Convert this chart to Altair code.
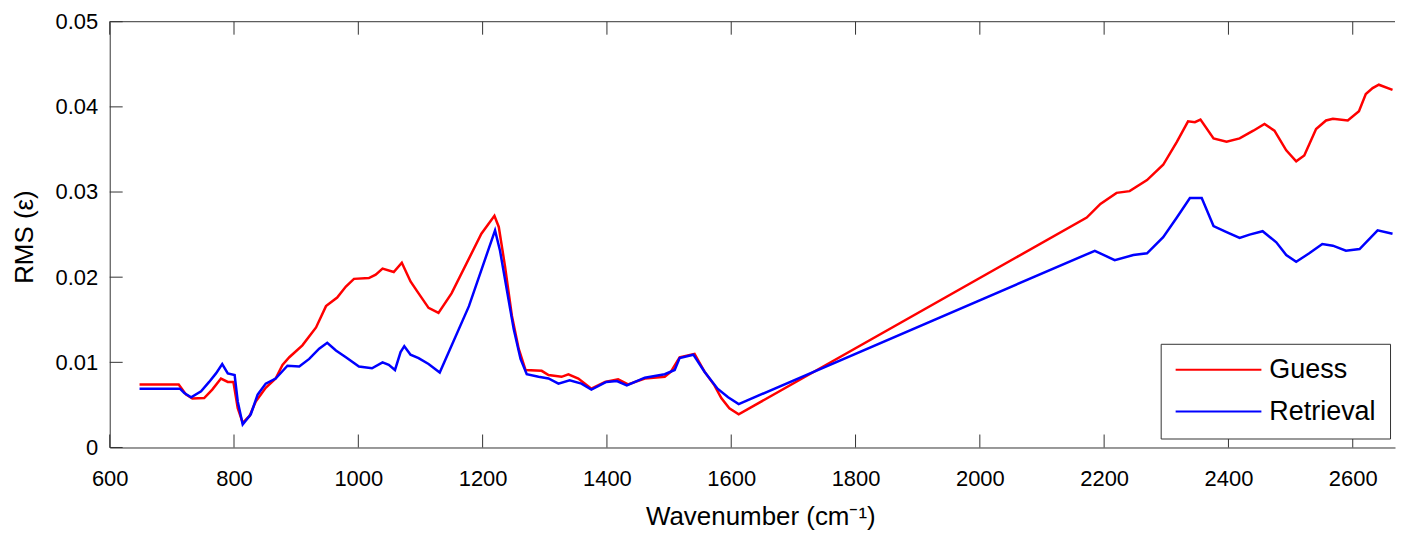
import altair as alt
import pandas as pd

# ---------------- data ----------------
guess_wn = [648, 711, 723, 733, 752, 765, 779, 790, 799, 806, 814, 825, 835, 851, 867, 878, 889,
            910, 932, 948, 966, 980, 993, 1017, 1028, 1039, 1057, 1070, 1084, 1097, 1113, 1129,
            1150, 1198, 1219, 1226, 1236, 1247, 1258, 1269, 1295, 1306, 1327, 1338, 1354, 1375,
            1397, 1418, 1434, 1461, 1493, 1503, 1517, 1541, 1557, 1573, 1584, 1597, 1612,
            2172, 2194, 2220, 2241, 2269, 2295, 2317, 2335, 2346, 2355, 2376, 2397, 2418, 2440,
            2458, 2474, 2493, 2509, 2522, 2541, 2557, 2568, 2592, 2610, 2621, 2632, 2642, 2664]
guess_rms = [0.0074, 0.0074, 0.0062, 0.00575, 0.0058, 0.0068, 0.0081, 0.0077, 0.0077, 0.0046,
             0.0029, 0.0037, 0.0054, 0.0070, 0.0081, 0.0097, 0.0106, 0.0120, 0.0141, 0.0166,
             0.0176, 0.0189, 0.0198, 0.0199, 0.0203, 0.0210, 0.0206, 0.0217, 0.0195, 0.0181,
             0.0164, 0.0158, 0.0181, 0.0251, 0.0272, 0.0259, 0.0213, 0.0155, 0.0116, 0.0091,
             0.0090, 0.0085, 0.0083, 0.0086, 0.0081, 0.0069, 0.0077, 0.0080, 0.0074, 0.0081,
             0.0083, 0.0089, 0.0106, 0.0110, 0.0089, 0.0073, 0.0058, 0.0046, 0.0039,
             0.0270, 0.0286, 0.0299, 0.0301, 0.0314, 0.0332, 0.0359, 0.0383, 0.0382, 0.0385,
             0.0363, 0.0359, 0.0363, 0.0372, 0.0380, 0.0372, 0.0349, 0.0336, 0.0343, 0.0374,
             0.0384, 0.0386, 0.0384, 0.0395, 0.0415, 0.0422, 0.0426, 0.0420]

retr_wn = [648, 713, 720, 731, 747, 760, 771, 781, 790, 801, 806, 814, 827, 838, 851, 867, 886,
           905, 921, 937, 950, 964, 980, 1001, 1022, 1039, 1049, 1059, 1068, 1074, 1084, 1097,
           1113, 1131, 1178, 1220, 1228, 1239, 1250, 1261, 1271, 1290, 1306, 1322, 1340, 1359,
           1375, 1399, 1416, 1432, 1461, 1493, 1509, 1517, 1539, 1557, 1578, 1595, 1612,
           2185, 2217, 2247, 2269, 2295, 2317, 2338, 2357, 2376, 2397, 2418, 2434, 2455, 2477,
           2493, 2509, 2530, 2551, 2568, 2589, 2611, 2640, 2664]
retr_rms = [0.0069, 0.0069, 0.0064, 0.0059, 0.0066, 0.0077, 0.0087, 0.0098, 0.0087, 0.0085,
            0.0054, 0.0027, 0.0039, 0.0062, 0.0075, 0.0081, 0.0096, 0.0095, 0.0104, 0.0116,
            0.0123, 0.0114, 0.0106, 0.0095, 0.0093, 0.0100, 0.0097, 0.0091, 0.0112, 0.0119,
            0.0109, 0.0105, 0.0098, 0.0088, 0.0166, 0.0255, 0.0231, 0.0185, 0.0139, 0.0104,
            0.0086, 0.0083, 0.0081, 0.0075, 0.0079, 0.0075, 0.0068, 0.0077, 0.0078, 0.0073,
            0.0082, 0.0086, 0.0091, 0.0105, 0.0109, 0.0089, 0.0069, 0.0059, 0.0051,
            0.0231, 0.0220, 0.0226, 0.0228, 0.0247, 0.0270, 0.0293, 0.0293, 0.0260, 0.0253,
            0.0246, 0.0250, 0.0254, 0.0241, 0.0226, 0.0218, 0.0228, 0.0239, 0.0237, 0.0231,
            0.0233, 0.0255, 0.0251]

series_names = ["Guess", "Retrieval"]
series_colors = ["#ff0000", "#0000ff"]
x_ticks = [600, 800, 1000, 1200, 1400, 1600, 1800, 2000, 2200, 2400, 2600]
y_ticks = [0, 0.01, 0.02, 0.03, 0.04, 0.05]
x_title = "Wavenumber (cm⁻¹)"
y_title = "RMS (ε)"

# ---------------- layout ----------------
W, H = 1289, 427
XMIN, XMAX = 600, 2668
AX = "#333333"
FONT = "Liberation Sans"
TICK = 13

df = pd.concat([
    pd.DataFrame({"wn": guess_wn, "rms": guess_rms, "series": series_names[0]}),
    pd.DataFrame({"wn": retr_wn, "rms": retr_rms, "series": series_names[1]}),
], ignore_index=True)

x_scale = alt.Scale(domain=[XMIN, XMAX], nice=False, zero=False)
y_scale = alt.Scale(domain=[0, 0.05], nice=False, zero=False)

x_axis = alt.Axis(values=x_ticks, ticks=False, grid=False, format="d",
                  labelPadding=21, labelFlush=False, labelOverlap=False,
                  title=x_title, titleX=W / 2 + 8, titleY=77,
                  titleBaseline="alphabetic", titleAlign="center")
y_axis = alt.Axis(values=y_ticks, ticks=False, grid=False,
                  labelExpr="datum.value == 0 ? '0' : format(datum.value, '.2f')",
                  labelPadding=12, labelFlush=False, labelOverlap=False,
                  title=y_title, titleX=-85, titleY=H / 2 + 2, titleAngle=270,
                  titleBaseline="middle", titleAlign="center")

lines = alt.Chart(df).mark_line(strokeWidth=2.5, clip=True).encode(
    x=alt.X("wn:Q", scale=x_scale, axis=x_axis, title=x_title),
    y=alt.Y("rms:Q", scale=y_scale, axis=y_axis, title=y_title),
    color=alt.Color("series:N",
                    scale=alt.Scale(domain=series_names, range=series_colors),
                    legend=alt.Legend(title=None, orient="none", legendX=1054, legendY=323,
                                      direction="vertical", strokeColor=AX, fillColor="white",
                                      padding=14, symbolType="stroke", symbolSize=7396,
                                      symbolStrokeWidth=2, labelFontSize=27, labelFont=FONT,
                                      labelColor="black", labelOffset=7, clipHeight=24,
                                      rowPadding=15)),
)

xt = pd.DataFrame({"wn": x_ticks})
yt = pd.DataFrame({"rms": y_ticks})

bottom_ticks = alt.Chart(xt).mark_rule(color=AX, strokeWidth=1).encode(
    x=alt.X("wn:Q", scale=x_scale, axis=x_axis, title=x_title),
    y=alt.value(H), y2=alt.value(H - TICK))
top_ticks = alt.Chart(xt).mark_rule(color=AX, strokeWidth=1).encode(
    x=alt.X("wn:Q", scale=x_scale, axis=x_axis, title=x_title),
    y=alt.value(0), y2=alt.value(TICK))
left_ticks = alt.Chart(yt).mark_rule(color=AX, strokeWidth=1).encode(
    y=alt.Y("rms:Q", scale=y_scale, axis=y_axis, title=y_title),
    x=alt.value(0), x2=alt.value(TICK))
top_border = alt.Chart(pd.DataFrame({"k": [0]})).mark_rule(color=AX, strokeWidth=1).encode(
    x=alt.value(0), x2=alt.value(W), y=alt.value(0))

chart = alt.layer(lines, bottom_ticks, top_ticks, left_ticks, top_border).properties(
    width=W, height=H,
    autosize=alt.AutoSizeParams(type="none"),
    padding={"left": 102, "top": 13, "right": 4, "bottom": 82},
).configure_view(stroke=None).configure_axis(
    labelFont=FONT, labelFontSize=22, labelColor="black",
    titleFont=FONT, titleFontSize=26, titleColor="black", titleFontWeight="normal",
    domainColor=AX, domainWidth=1,
)

chart.save("out.html", embed_options={"renderer": "svg", "actions": False})
